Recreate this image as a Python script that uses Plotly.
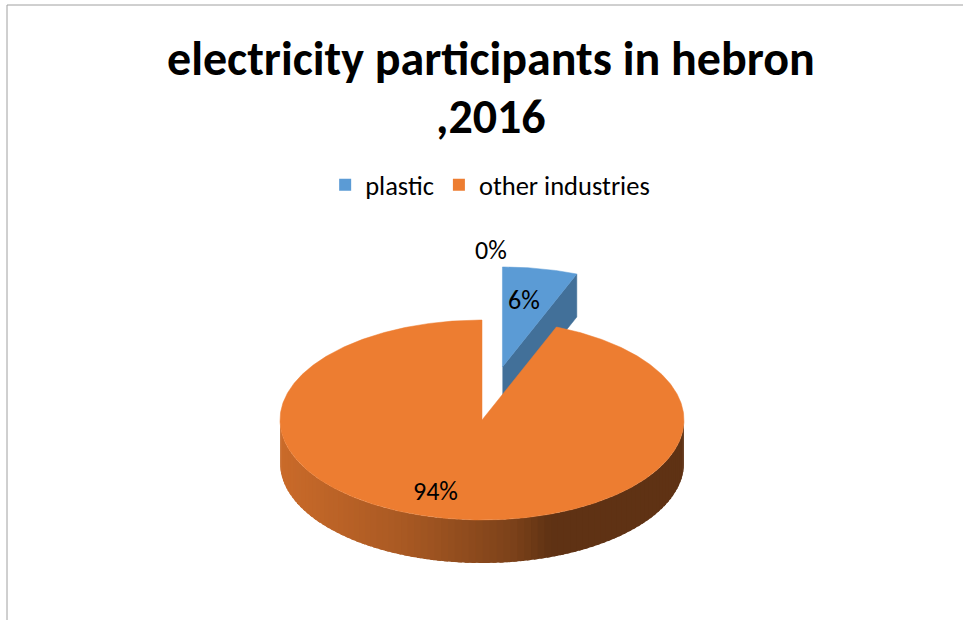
import numpy as np
import plotly.graph_objects as go

# ---- data ----
categories = ["", "plastic", "other industries"]
values = [0, 6, 94]
show_in_legend = [False, True, True]
title_lines = ["electricity participants in hebron", ",2016"]

# ---- styling ----
W, H = 963, 620
CX, CY = 482, 420          # centre of the pie's top face
RX, RY = 202, 100          # ellipse radii of the top face
DEPTH = 43                 # thickness of the 3-D pie
EXPLODE = [0.0, 0.54, 0.0]  # pull-out of each slice (fraction of radius)
TOP_COLORS = ["#A5A5A5", "#5B9BD5", "#ED7D31"]
LABEL_K = [1.7, 0.68, 0.72]      # radial position of each percentage label
LABEL_XSHIFT = [9, -4, -19]
FONT = "Calibri, Carlito, Lato, sans-serif"


def hex_rgb(h):
    h = h.lstrip("#")
    return tuple(int(h[i:i + 2], 16) for i in (0, 2, 4))


def shade(hexcol, f):
    r, g, b = hex_rgb(hexcol)
    return "rgb(%d,%d,%d)" % (round(r * f), round(g * f), round(b * f))


def wall_factor(t):
    # lighting across the front wall, t = 0 at the left rim, 1 at the right rim
    return float(np.interp(t, [0.0, 0.3, 0.57, 0.66, 1.0], [0.85, 0.71, 0.52, 0.40, 0.40]))


def rim(theta, ox, oy, drop=0.0, k=1.0):
    th = np.radians(theta)
    return ox + k * RX * np.sin(th), oy - k * RY * np.cos(th) + drop


def arc(a, b, ox, oy, drop=0.0, n=None):
    if n is None:
        n = max(2, int(abs(b - a) / 0.5) + 2)
    t = np.linspace(a, b, n)
    return rim(t, ox, oy, drop)


fig = go.Figure()


def poly(xs, ys, color, lw=0.0):
    fig.add_trace(go.Scatter(
        x=list(xs), y=list(ys), mode="lines", fill="toself",
        fillcolor=color, line=dict(color=color, width=lw),
        hoverinfo="skip", showlegend=False))


total = float(sum(values))
starts = np.concatenate([[0.0], np.cumsum(values)[:-1]]) / total * 360.0
ends = np.cumsum(values) / total * 360.0
mids = (starts + ends) / 2.0

slices = []
for i, v in enumerate(values):
    m = mids[i]
    ox = CX + EXPLODE[i] * RX * np.sin(np.radians(m))
    oy = CY - EXPLODE[i] * RY * np.cos(np.radians(m))
    slices.append(dict(i=i, a=starts[i], b=ends[i], m=m, ox=ox, oy=oy))

# paint from back to front
order = sorted(range(len(values)), key=lambda i: -np.cos(np.radians(mids[i])))
for i in order:
    s = slices[i]
    if values[i] <= 0:
        continue
    a, b, ox, oy = s["a"], s["b"], s["ox"], s["oy"]
    base = TOP_COLORS[i]

    # radial cut faces that turn toward the viewer
    for edge, visible in ((b, np.sin(np.radians(b)) > 1e-6), (a, np.sin(np.radians(a)) < -1e-6)):
        if visible and (b - a) < 360:
            ex, ey = rim(edge, ox, oy)
            poly([ox, ex, ex, ox], [oy, ey, ey + DEPTH, oy + DEPTH], shade(base, 0.72), 0.5)

    # curved outer wall on the front half, shaded in narrow overlapping strips
    lo, hi = max(a, 90.0), min(b, 270.0)
    if hi > lo:
        edges = np.linspace(lo, hi, int((hi - lo) / 2) + 2)
        step = edges[1] - edges[0]
        for t0, t1 in zip(edges[:-1], edges[1:]):
            t0e = max(lo, t0 - step * 0.6)
            tx, ty = arc(t0e, t1, ox, oy, n=5)
            bx, by = arc(t1, t0e, ox, oy, drop=DEPTH, n=5)
            xm = np.sin(np.radians((t0 + t1) / 2))
            f = wall_factor((xm + 1) / 2)
            poly(np.concatenate([tx, bx]), np.concatenate([ty, by]), shade(base, f))

    # top face
    ax_, ay_ = arc(a, b, ox, oy)
    poly(np.concatenate([[ox], ax_, [ox]]), np.concatenate([[oy], ay_, [oy]]), base, 0.5)

# percentage labels
for i, s in enumerate(slices):
    lx, ly = rim(s["m"], s["ox"], s["oy"], k=LABEL_K[i])
    fig.add_annotation(x=lx, y=ly, text="%d%%" % round(values[i] / total * 100),
                       showarrow=False, xshift=LABEL_XSHIFT[i],
                       font=dict(family=FONT, size=26, color="#000000"))

# legend entries
for i, name in enumerate(categories):
    if show_in_legend[i]:
        fig.add_trace(go.Scatter(x=[None], y=[None], mode="markers", name=name,
                                 marker=dict(symbol="square", size=12, color=TOP_COLORS[i])))

# title, two centred lines
for j, (line, yc) in enumerate(zip(title_lines, [58, 116])):
    fig.add_annotation(x=491, y=yc, text="<b>%s</b>" % line, showarrow=False,
                       font=dict(family=FONT, size=48, color="#000000"))

# chart frame
fig.add_shape(type="line", x0=7, y0=5, x1=W, y1=5, line=dict(color="#A0A0A0", width=1))
fig.add_shape(type="line", x0=7, y0=5, x1=7, y1=H, line=dict(color="#A0A0A0", width=1))

fig.update_layout(
    width=W, height=H, margin=dict(l=0, r=0, t=0, b=0),
    paper_bgcolor="white", plot_bgcolor="white",
    xaxis=dict(range=[0, W], visible=False, fixedrange=True),
    yaxis=dict(range=[H, 0], visible=False, fixedrange=True),
    showlegend=True,
    legend=dict(orientation="h", x=0.509, xanchor="center", y=1 - 185 / H, yanchor="middle",
                font=dict(family=FONT, size=26.5, color="#000000"),
                itemwidth=30, tracegroupgap=0, bgcolor="rgba(0,0,0,0)"),
)

fig.write_html("out.html")
